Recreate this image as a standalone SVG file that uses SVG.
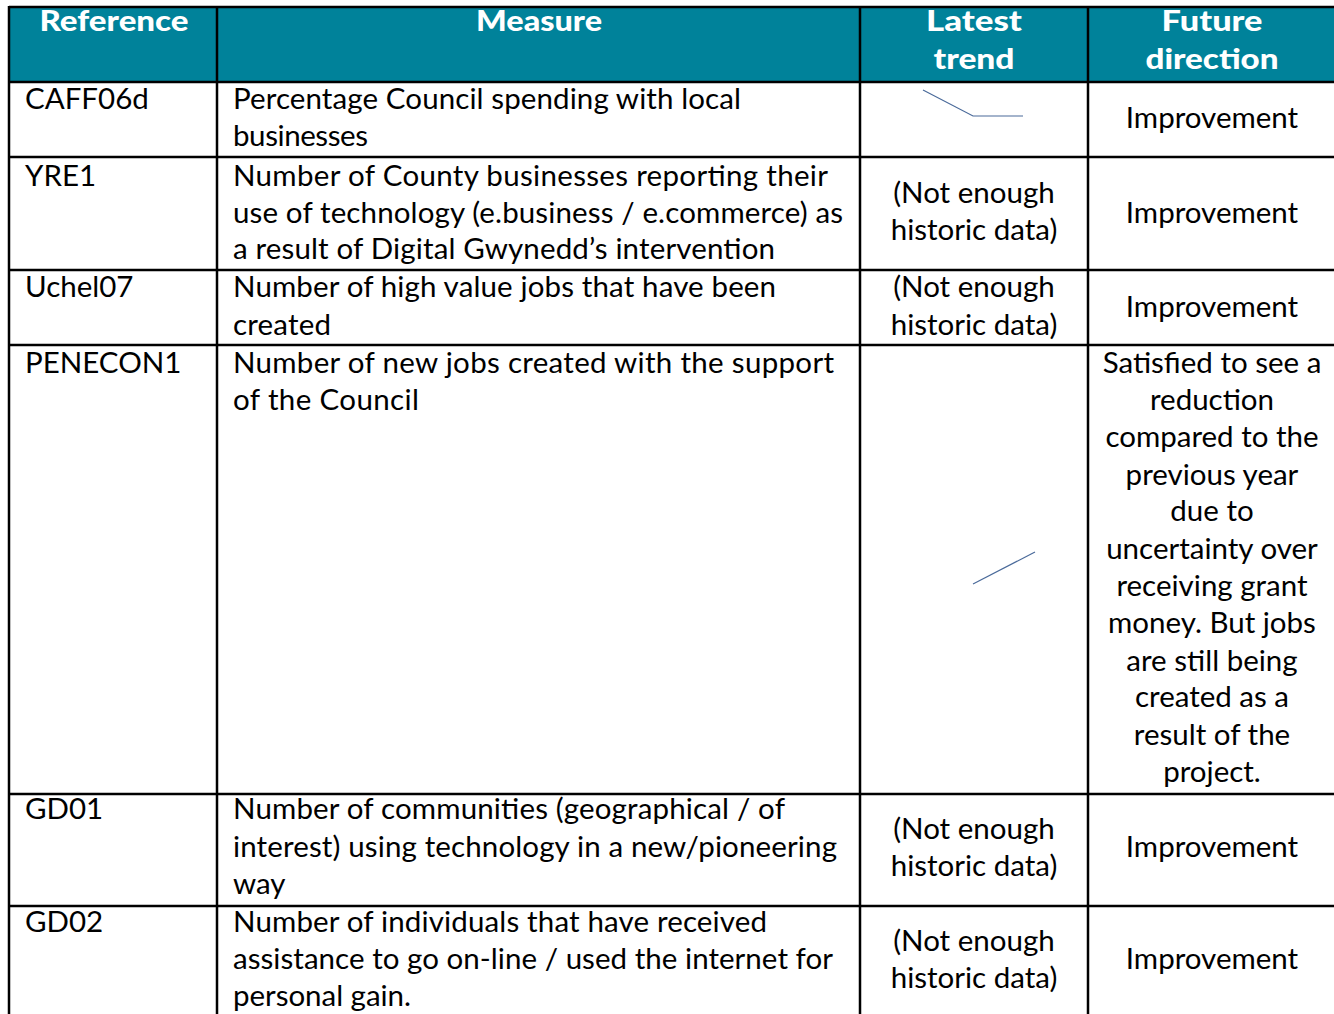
<svg xmlns="http://www.w3.org/2000/svg" width="1334" height="1014" viewBox="0 0 1334 1014">
<style>
.t{font-family:Lato,"Open Sans","Liberation Sans",sans-serif;font-size:29.5px;fill:#000}
.h{font-family:Lato,"Open Sans","Liberation Sans",sans-serif;font-size:29px;font-weight:900;fill:#fff;text-anchor:middle}
.c{text-anchor:middle}
.g{stroke:#000;stroke-width:2.5;fill:none}
.tr{stroke:#4A6A9A;stroke-width:1.2;fill:none}
</style>
<rect width="1334" height="1014" fill="#fff"/>
<g id="header">
<rect x="9" y="7" width="1325" height="75" fill="#00829A"/>
<text class="h" x="114" y="31" textLength="149" lengthAdjust="spacingAndGlyphs">Reference</text>
<text class="h" x="539" y="31" textLength="126" lengthAdjust="spacingAndGlyphs">Measure</text>
<text class="h" x="974" y="31" textLength="96" lengthAdjust="spacingAndGlyphs">Latest</text>
<text class="h" x="974" y="69" textLength="81" lengthAdjust="spacingAndGlyphs">trend</text>
<text class="h" x="1212" y="31" textLength="101" lengthAdjust="spacingAndGlyphs">Future</text>
<text class="h" x="1212" y="69" textLength="133" lengthAdjust="spacingAndGlyphs">direction</text>
</g>
<g id="grid">
<line class="g" x1="9" y1="7" x2="1334" y2="7"/>
<line class="g" x1="9" y1="82" x2="1334" y2="82"/>
<line class="g" x1="9" y1="157" x2="1334" y2="157"/>
<line class="g" x1="9" y1="270" x2="1334" y2="270"/>
<line class="g" x1="9" y1="345" x2="1334" y2="345"/>
<line class="g" x1="9" y1="794" x2="1334" y2="794"/>
<line class="g" x1="9" y1="906" x2="1334" y2="906"/>
<line class="g" x1="9" y1="6" x2="9" y2="1014"/>
<line class="g" x1="217" y1="6" x2="217" y2="1014"/>
<line class="g" x1="860" y1="6" x2="860" y2="1014"/>
<line class="g" x1="1088" y1="6" x2="1088" y2="1014"/>
</g>
<g id="row1" class="t">
<text x="25" y="109">CAFF06d</text>
<text x="233" y="109" textLength="508">Percentage Council spending with local</text>
<text x="233" y="146" textLength="135">businesses</text>
<polyline class="tr" points="923,90 973,116 1023,116"/>
<text class="c" x="1212" y="128">Improvement</text>
</g>
<g id="row2" class="t">
<text x="25" y="186">YRE1</text>
<text x="233" y="186" textLength="595">Number of County businesses reporting their</text>
<text x="233" y="223" textLength="610">use of technology (e.business / e.commerce) as</text>
<text x="233" y="259" textLength="542">a result of Digital Gwynedd’s intervention</text>
<text class="c" x="974" y="203">(Not enough</text>
<text class="c" x="974" y="240">historic data)</text>
<text class="c" x="1212" y="223">Improvement</text>
</g>
<g id="row3" class="t">
<text x="25" y="297">Uchel07</text>
<text x="233" y="297" textLength="543">Number of high value jobs that have been</text>
<text x="233" y="335" textLength="98">created</text>
<text class="c" x="974" y="297">(Not enough</text>
<text class="c" x="974" y="335">historic data)</text>
<text class="c" x="1212" y="317">Improvement</text>
</g>
<g id="row4" class="t">
<text x="25" y="373">PENECON1</text>
<text x="233" y="373" textLength="601">Number of new jobs created with the support</text>
<text x="233" y="410" textLength="186">of the Council</text>
<line class="tr" x1="973" y1="584" x2="1035" y2="552"/>
<text class="c" x="1212" y="373">Satisfied to see a</text>
<text class="c" x="1212" y="410">reduction</text>
<text class="c" x="1212" y="447">compared to the</text>
<text class="c" x="1212" y="485">previous year</text>
<text class="c" x="1212" y="521">due to</text>
<text class="c" x="1212" y="559">uncertainty over</text>
<text class="c" x="1212" y="596">receiving grant</text>
<text class="c" x="1212" y="633">money. But jobs</text>
<text class="c" x="1212" y="671">are still being</text>
<text class="c" x="1212" y="707">created as a</text>
<text class="c" x="1212" y="745">result of the</text>
<text class="c" x="1212" y="782">project.</text>
</g>
<g id="row5" class="t">
<text x="25" y="819">GD01</text>
<text x="233" y="819" textLength="552">Number of communities (geographical / of</text>
<text x="233" y="857" textLength="604">interest) using technology in a new/pioneering</text>
<text x="233" y="894">way</text>
<text class="c" x="974" y="839">(Not enough</text>
<text class="c" x="974" y="876">historic data)</text>
<text class="c" x="1212" y="857">Improvement</text>
</g>
<g id="row6" class="t">
<text x="25" y="932">GD02</text>
<text x="233" y="932" textLength="534">Number of individuals that have received</text>
<text x="233" y="969" textLength="600">assistance to go on-line / used the internet for</text>
<text x="233" y="1006" textLength="178">personal gain.</text>
<text class="c" x="974" y="951">(Not enough</text>
<text class="c" x="974" y="988">historic data)</text>
<text class="c" x="1212" y="969">Improvement</text>
</g>
</svg>
